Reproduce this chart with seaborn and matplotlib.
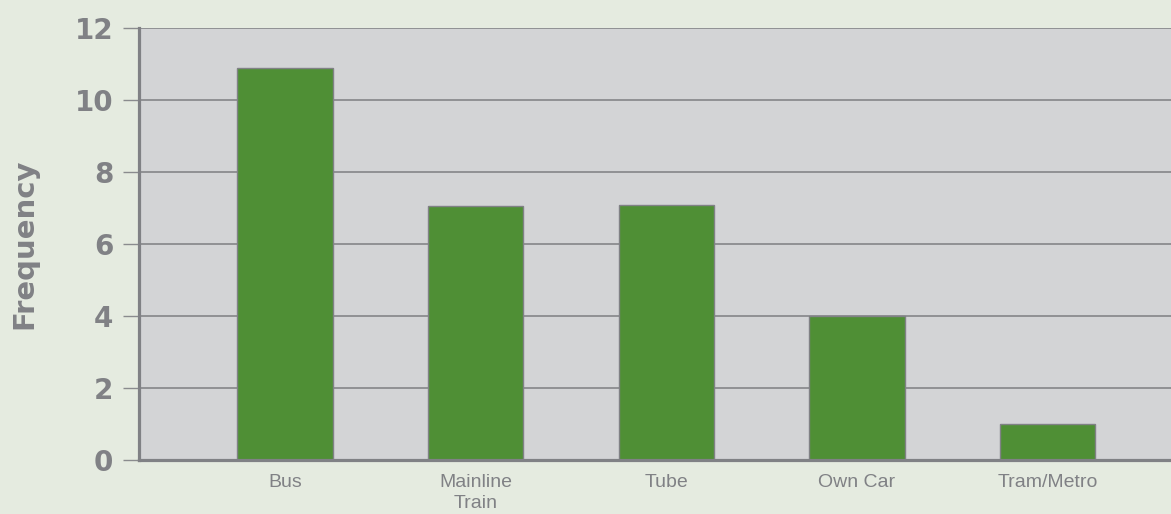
import matplotlib
matplotlib.use("Agg")
import matplotlib.pyplot as plt
import seaborn as sns
import pandas as pd

categories = ["Bus", "Mainline\nTrain", "Tube", "Own Car", "Tram/Metro"]
frequency = [10.9, 7.05, 7.08, 4.0, 1.0]
yticks = [0, 2, 4, 6, 8, 10, 12]

BG = "#e5ebe0"
PLOT_BG = "#d3d4d6"
BAR = "#4f8f35"
GRAY = "#808185"
GRID = "#8a8b8e"

sns.set_theme(style="white")
plt.rcParams['font.family'] = ['DejaVu Sans']

df = pd.DataFrame({"mode": categories, "freq": frequency})

fig = plt.figure(figsize=(11.71, 5.14), dpi=100, facecolor=BG)
ax = fig.add_axes([139/1171, 54/514, 1 - 139/1171, 432/514])
ax.set_facecolor(PLOT_BG)

sns.barplot(data=df, x="mode", y="freq", order=categories, color=BAR,
            width=0.5, edgecolor=GRAY, linewidth=1.0, saturation=1, ax=ax)

ax.set_xlim(-0.766, 4.648)
ax.set_ylim(0, 12)
ax.set_yticks(yticks)
ax.set_yticklabels([str(t) for t in yticks], fontsize=20, fontweight="heavy",
                   color=GRAY, family="DejaVu Sans")
ax.set_axisbelow(True)
ax.yaxis.grid(True, color=GRID, linewidth=1.3)
ax.xaxis.grid(False)

ax.tick_params(axis="y", length=11.5, width=1.0, color=GRID, pad=7, left=True)
ax.tick_params(axis="x", length=0, pad=10)
for lab in ax.get_xticklabels():
    lab.set_fontsize(14)
    lab.set_color(GRAY)
    lab.set_family("Liberation Sans")
    lab.set_linespacing(1.35)

ax.set_xlabel("")
ax.set_ylabel("Frequency", fontsize=21, fontweight="heavy", color=GRAY, labelpad=26)

for side in ["top", "right"]:
    ax.spines[side].set_visible(False)
for side in ["left", "bottom"]:
    ax.spines[side].set_color(GRAY)
    ax.spines[side].set_linewidth(2.3)

fig.savefig("out.png", dpi=100, facecolor=BG)
